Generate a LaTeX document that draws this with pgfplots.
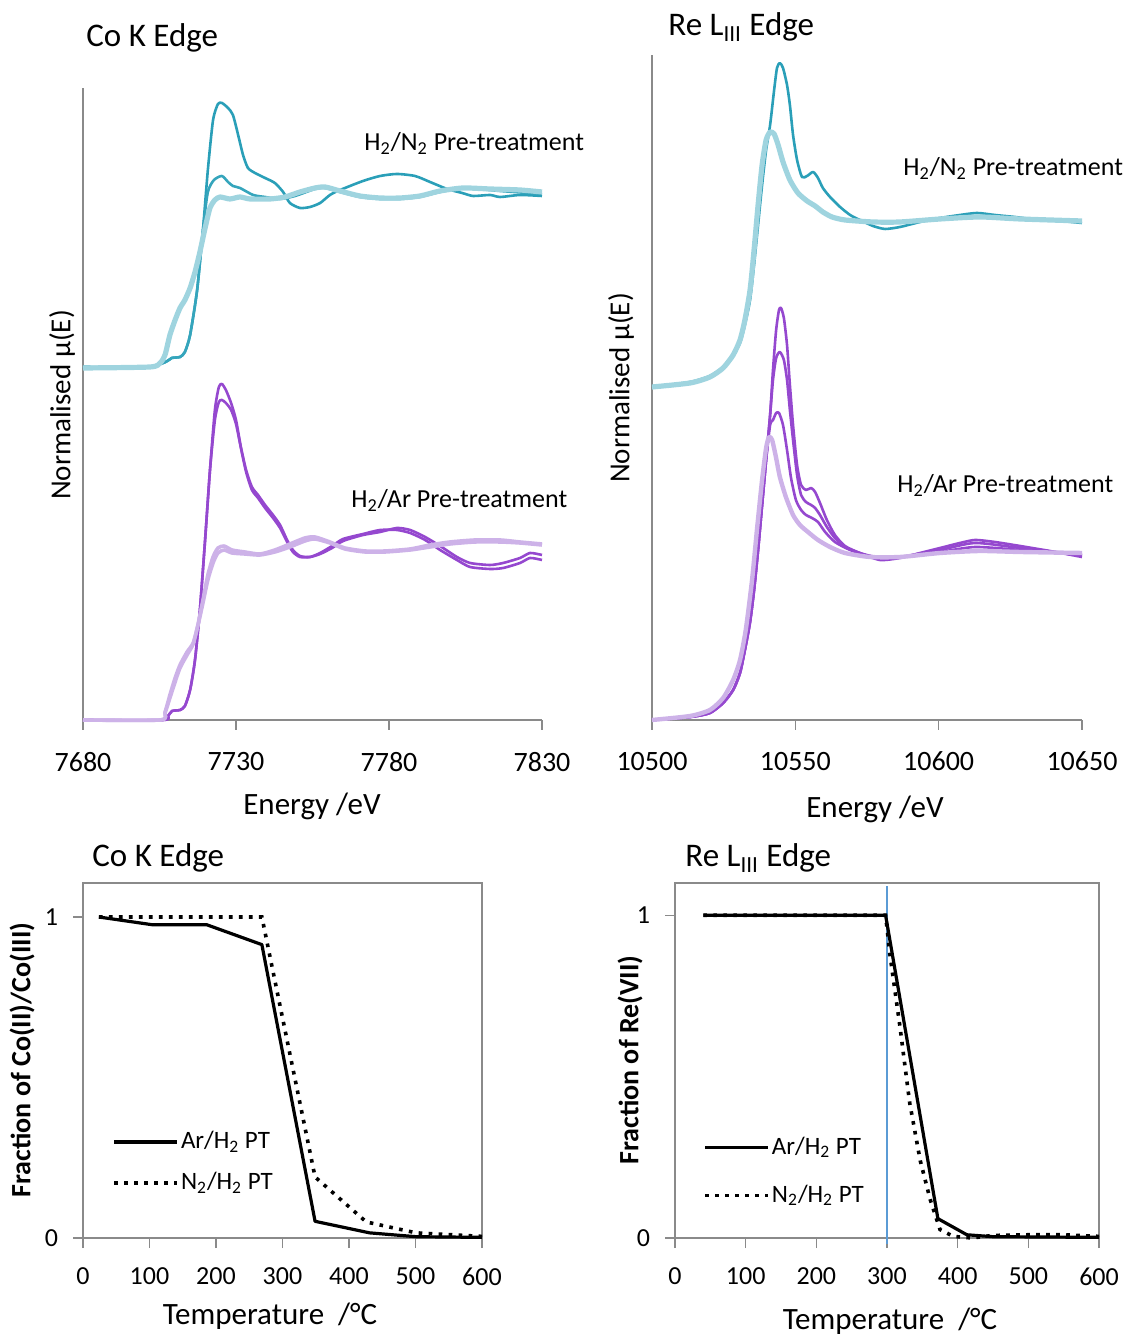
\documentclass[border=0pt]{standalone}
\usepackage{fontspec}
\setmainfont{Carlito}
\usepackage{pgfplots}
\pgfplotsset{compat=1.18}
\definecolor{tealD}{HTML}{2A9FB8}
\definecolor{tealM}{HTML}{35A5BC}
\definecolor{tealL}{HTML}{9FD4DF}
\definecolor{purD}{HTML}{9548CF}
\definecolor{purL}{HTML}{CDB2E8}
\definecolor{axgray}{HTML}{8A8A8A}
\definecolor{exblue}{HTML}{5B9BD5}
\newcommand{\fs}[1]{\fontsize{#1}{#1}\selectfont}
\begin{document}
\begin{tikzpicture}
\useasboundingbox (0,0) rectangle (561.5pt,668pt);
\pgfplotsset{
  xanes/.style={scale only axis, axis lines*=left,
    axis line style={draw=axgray, line width=0.6pt},
    ytick=\empty, tick align=outside, major tick length=5pt,
    tick style={draw=axgray, line width=0.6pt},
    ticklabel style={font=\fs{14}},
    xticklabel style={yshift=-7.5pt},
    scaled x ticks=false,
    /pgf/number format/assume math mode=true,
    /pgf/number format/1000 sep={},
    ymin=0, clip=false},
  frac/.style={scale only axis, width=199.5pt, height=177.5pt,
    xmin=0, xmax=600, ymin=0, xtick={0,100,...,600}, ytick={0,1},
    tick pos=left, tick align=outside, major tick length=5pt,
    axis line style={draw=axgray, line width=0.6pt},
    tick style={draw=axgray, line width=0.6pt},
    ticklabel style={font=\fs{13}},
    xticklabel style={yshift=-6.5pt},
    yticklabel style={xshift=-4pt},
    /pgf/number format/assume math mode=true, clip=false,
    legend image code/.code={\draw[##1] (0pt,0pt) -- (31.5pt,0pt);},
    legend cell align=left},
  solidk/.style={black, line width=1.6pt, line join=round},
  dotk/.style={black, line width=1.8pt, dash pattern=on 1.8pt off 3.2pt},
  dk/.style={line width=1.3pt, line join=round, smooth, tension=0.4},
  lt/.style={line width=2.6pt, line join=round, smooth, tension=0.4},
}
% ---------------- Co K edge XANES ----------------
\begin{axis}[xanes, at={(41.5pt,308pt)}, anchor=south west,
  width=229.5pt, height=316pt, xmin=7680, xmax=7830, ymax=632,
  xtick={7680,7730,7780,7830}]
% H2/N2
\addplot[dk, tealD] coordinates {(7680,353) (7701,353) (7707,358) (7709,362) (7711.7,363) (7713.3,368) (7715,385) (7717.3,430) (7719.2,490) (7720.8,550) (7722.5,600) (7724.1,616) (7725.4,617) (7727.4,612) (7729,605) (7730.7,585) (7732.3,565) (7733.9,552) (7736.2,547) (7739.5,542) (7742.7,537) (7745.4,528) (7747.6,517) (7750.9,512) (7754.2,513) (7757.5,517) (7760.7,525) (7764,530) (7771.5,539) (7777.1,544) (7782.6,546) (7788.5,544) (7793.4,538) (7799,531) (7803.9,527) (7807.5,524) (7813,525) (7816.3,523) (7822.8,525) (7830,524)};
\addplot[dk, tealM] coordinates {(7680,353) (7701,353) (7707,358) (7709,362) (7711.7,363) (7713.3,368) (7715,385) (7717.3,430) (7719.2,490) (7720.8,528) (7722.8,540) (7725.4,544) (7727.4,538) (7729,534) (7731.3,532) (7735.6,525) (7739.5,523) (7744.4,521) (7749.3,524) (7755.8,531) (7759.1,532) (7764,528) (7770.5,523) (7777,521) (7783.6,521) (7790,523) (7796.7,528) (7804.2,532) (7816.3,529) (7830,526)};
\addplot[lt, tealL] coordinates {(7680,352) (7701.9,353) (7705.2,357) (7706.8,365) (7708.4,385) (7710.1,400) (7711.7,412) (7713.3,420) (7715,432) (7716.6,448) (7718.2,468) (7719.9,492) (7721.5,512) (7723.1,520) (7724.8,523) (7728,521) (7731.3,523) (7734.6,521) (7741.1,521) (7746,523) (7750.9,528) (7755.8,532) (7759.1,533) (7764,529) (7770.5,524) (7777.1,522) (7783.6,522) (7790.1,524) (7796.7,529) (7804.2,532) (7813,531) (7822.8,530) (7830,528)};
% H2/Ar
\addplot[dk, purD] coordinates {(7680,0) (7706.1,0) (7707.8,4) (7709.1,9) (7711.7,10) (7713.3,14) (7715,30) (7716.6,60) (7718.2,110) (7719.9,180) (7721.5,250) (7723.1,310) (7724.4,333) (7725.4,336) (7726.7,330) (7728.4,317) (7730,300) (7731.6,273) (7733.3,250) (7735.2,233) (7737.2,225) (7739.5,215) (7742.1,205) (7744.4,195) (7746.7,180) (7748.6,170) (7750.9,164) (7754.2,163) (7757.5,166) (7761.4,172) (7765,179) (7771.5,185) (7777.1,188) (7782.6,192) (7786.9,190) (7791.8,183) (7796.7,174) (7802.2,163) (7806.5,157) (7813,155) (7817.3,157) (7822.8,162) (7826.1,167) (7830,165)};
\addplot[dk, purD] coordinates {(7680,0) (7706.1,0) (7707.8,4) (7709.1,9) (7711.7,10) (7713.3,14) (7715,30) (7716.6,60) (7718.2,110) (7719.9,180) (7721.5,250) (7723.1,300) (7724.4,318) (7725.4,320) (7726.7,317) (7728.4,310) (7730,296) (7731.6,272) (7733.3,248) (7735.2,230) (7737.2,222) (7739.5,212) (7742.1,202) (7744.4,192) (7746.7,178) (7748.6,168) (7750.9,163) (7754.2,163) (7757.5,167) (7761.4,174) (7765,181) (7771.5,186) (7777.1,190) (7782.6,190) (7786.9,187) (7791.8,180) (7796.7,170) (7802.2,160) (7806.5,153) (7813,151) (7817.3,152) (7822.8,157) (7826.1,162) (7830,160)};
\addplot[dk, line width=1.8pt, purL] coordinates {(7680,0) (7705.2,0) (7706.8,8) (7708.4,25) (7710.1,42) (7711.7,55) (7714,68) (7716,77) (7717.6,95) (7719.2,117) (7720.8,140) (7722.5,157) (7724.1,167) (7726.1,170) (7728.7,167) (7732.9,166) (7737.8,165) (7742.7,168) (7747.6,173) (7752.5,179) (7755.8,181) (7760.7,177) (7765.6,171) (7772.2,168) (7778.7,168) (7786.9,170) (7793.4,173) (7799.9,176) (7808.1,178) (7816.3,178) (7822.8,177) (7830,175)};
\addplot[dk, line width=1.8pt, purL] coordinates {(7680,0) (7705.2,0) (7706.8,7) (7708.4,22) (7710.1,38) (7711.7,52) (7714,65) (7716,76) (7717.6,96) (7719.2,120) (7720.8,145) (7722.5,163) (7724.1,172) (7726.1,174) (7728.7,170) (7732.9,168) (7737.8,166) (7742.7,170) (7747.6,176) (7752.5,182) (7755.8,183) (7760.7,178) (7765.6,172) (7772.2,169) (7778.7,169) (7786.9,171) (7793.4,175) (7799.9,178) (7808.1,180) (7816.3,180) (7822.8,178) (7830,176)};
\end{axis}
% ---------------- Re LIII edge XANES ----------------
\begin{axis}[xanes, at={(326pt,308pt)}, anchor=south west,
  width=215pt, height=332.5pt, xmin=10500, xmax=10650, ymax=665,
  xtick={10500,10550,10600,10650}]
\addplot[dk, tealD] coordinates {(10500,333) (10513.3,338) (10520.2,344) (10524.8,353) (10528.3,365) (10530.7,377) (10532.4,395) (10534.2,420) (10535.6,455) (10537,495) (10538.4,535) (10539.8,570) (10541.2,595) (10542.6,630) (10543.6,652) (10544.6,657) (10545.7,652) (10547.1,635) (10548.1,615) (10549.2,585) (10550.6,560) (10552.3,543) (10554.1,544) (10556.2,548) (10557.9,542) (10559.6,532) (10562.1,523) (10565.6,513) (10569.1,505) (10572.5,500) (10577.1,494) (10581.3,491) (10586.5,493) (10593.5,498) (10600.5,502) (10607.4,505) (10613.4,507) (10619.6,505) (10626.6,503) (10635.3,500) (10642.3,499) (10650,497)};
\addplot[lt, tealL] coordinates {(10500,333) (10513.3,337) (10520.2,343) (10524.8,352) (10528.3,365) (10530.7,380) (10532.4,400) (10534.2,430) (10535.6,470) (10537,515) (10538.4,555) (10539.8,580) (10541.2,588) (10542.6,586) (10544,575) (10545.7,558) (10548.1,540) (10550.9,527) (10554.1,519) (10556.9,514) (10559.6,508) (10562.8,503) (10567.3,500) (10577.1,498) (10586.5,498) (10600.5,501) (10614.4,503) (10628.4,501) (10650,499)};
\addplot[dk, purD] coordinates {(10500,0) (10513.3,3) (10520.2,7) (10524.8,17) (10528.3,30) (10530.7,47) (10532.4,70) (10534.2,98) (10535.6,130) (10537,170) (10538.4,215) (10539.8,260) (10541.2,305) (10542.2,350) (10543.3,390) (10544.3,410) (10545,412) (10546,402) (10547.1,375) (10548.1,335) (10549.2,295) (10550.6,255) (10552,235) (10553.7,230) (10555.5,232) (10556.9,228) (10558.6,217) (10561,200) (10563.8,185) (10567.3,174) (10572.5,167) (10579.5,160) (10586.5,162) (10593.5,167) (10600.5,172) (10607.4,177) (10612.7,180) (10619.6,178) (10628.4,174) (10638.8,169) (10650,163)};
\addplot[dk, purD] coordinates {(10500,0) (10513.3,3) (10520.2,7) (10524.8,17) (10528.3,30) (10530.7,47) (10532.4,70) (10534.2,98) (10535.6,130) (10537,170) (10538.4,215) (10539.8,260) (10541.2,305) (10542.2,340) (10543.3,362) (10544.6,368) (10546,360) (10547.1,340) (10548.1,310) (10549.2,280) (10550.6,245) (10552,225) (10553.7,218) (10555.5,215) (10556.9,212) (10558.6,205) (10561,193) (10563.8,182) (10567.3,173) (10572.5,167) (10579.5,162) (10586.5,163) (10600.5,170) (10612.7,177) (10628.4,172) (10650,165)};
\addplot[dk, purD] coordinates {(10500,0) (10513.3,3) (10520.2,7) (10524.8,17) (10528.3,30) (10530.7,47) (10532.4,70) (10534.2,98) (10535.6,130) (10537,170) (10538.4,215) (10539.8,260) (10541.2,295) (10542.2,300) (10543.3,307) (10544.3,307) (10545.7,295) (10547.1,270) (10548.5,242) (10550.2,220) (10552,210) (10553.7,205) (10555.8,202) (10557.9,198) (10560.4,188) (10563.8,178) (10569.1,170) (10576,164) (10586.5,163) (10600.5,168) (10612.7,173) (10628.4,170) (10650,165)};
\addplot[dk, line width=2.2pt, purL] coordinates {(10500,0) (10513.3,4) (10520.2,10) (10524.8,22) (10528.3,40) (10530.7,60) (10532.7,90) (10534.9,140) (10536.6,190) (10538.4,240) (10539.8,272) (10540.8,283) (10541.9,280) (10543.3,262) (10544.6,243) (10546.7,223) (10549.2,205) (10551.6,195) (10554.4,188) (10557.9,180) (10562.1,173) (10567.3,167) (10576,163) (10586.5,163) (10600.5,167) (10614.4,169) (10628.4,168) (10650,167)};
\end{axis}
% ---------------- Co fraction ----------------
\begin{axis}[frac, at={(41.5pt,49pt)}, anchor=south west, ymax=1.106,
  legend style={at={(0.0727,0.2125)}, anchor=west, draw=none, fill=none,
    font=\fs{12.5}, inner sep=0pt, row sep=7pt,
    nodes={inner sep=1pt, text height=9pt, text depth=2.5pt}}]
\addplot[solidk] coordinates {(24,1.0) (104,0.976) (186,0.976) (269,0.914) (349,0.052) (431,0.016) (501,0.004) (600,0.002)};
\addlegendentry{Ar/H\textsubscript{2} PT}
\addplot[dotk] coordinates {(24,1.0) (106,1.0) (188,1.0) (269,1.0) (349,0.19) (426,0.05) (501,0.016) (600,0.005)};
\addlegendentry{N\textsubscript{2}/H\textsubscript{2} PT}
\end{axis}
% ---------------- Re fraction ----------------
\begin{axis}[frac, at={(337.5pt,49pt)}, anchor=south west, width=212pt, ymax=1.1,
  legend style={at={(0.066,0.187)}, anchor=west, draw=none, fill=none,
    font=\fs{12.5}, inner sep=0pt, row sep=10.5pt,
    nodes={inner sep=1pt, text height=9pt, text depth=2.5pt}}]
\addplot[exblue, line width=1.2pt, forget plot] coordinates {(300,-0.02) (300,1.09)};
\addplot[solidk] coordinates {(40,1.0) (298,1.0) (372,0.06) (413,0.01) (450,0.004) (600,0.002)};
\addlegendentry{Ar/H\textsubscript{2} PT}
\addplot[dotk] coordinates {(40,1.0) (298,1.0) (304,0.88) (318,0.66) (332,0.42) (347,0.24) (361,0.12) (375,0.026) (394,0.005) (420,0.0) (450,0.008) (500,0.01) (550,0.01) (600,0.005)};
\addlegendentry{N\textsubscript{2}/H\textsubscript{2} PT}
\end{axis}
% ---------------- Texts ----------------
\node[anchor=base west, font=\fs{16.5}, inner sep=0pt] at (43pt,644.5pt) {Co K Edge};
\node[anchor=base west, font=\fs{16.5}, inner sep=0pt] at (334pt,650pt) {Re L\textsubscript{III} Edge};
\node[anchor=base west, font=\fs{13}, inner sep=0pt] at (182pt,592.5pt) {H\textsubscript{2}/N\textsubscript{2} Pre-treatment};
\node[anchor=base west, font=\fs{13}, inner sep=0pt] at (175.5pt,414pt) {H\textsubscript{2}/Ar Pre-treatment};
\node[anchor=base west, font=\fs{13}, inner sep=0pt] at (451.5pt,580pt) {H\textsubscript{2}/N\textsubscript{2} Pre-treatment};
\node[anchor=base west, font=\fs{13}, inner sep=0pt] at (448.5pt,421.5pt) {H\textsubscript{2}/Ar Pre-treatment};
\node[rotate=90, font=\fs{14.5}, inner sep=0pt] at (31pt,465.5pt) {Normalised μ(E)};
\node[rotate=90, font=\fs{14.5}, inner sep=0pt] at (310.5pt,474pt) {Normalised μ(E)};
\node[anchor=base, font=\fs{15.5}, inner sep=0pt] at (156pt,260.5pt) {Energy /eV};
\node[anchor=base, font=\fs{15.5}, inner sep=0pt] at (437.5pt,259pt) {Energy /eV};
\node[anchor=base west, font=\fs{16.5}, inner sep=0pt] at (46pt,234.5pt) {Co K Edge};
\node[anchor=base west, font=\fs{16.5}, inner sep=0pt] at (342.5pt,234.5pt) {Re L\textsubscript{III} Edge};
\node[rotate=90, font=\bfseries\fs{14}, inner sep=0pt] at (11pt,138pt) {Fraction of Co(II)/Co(III)};
\node[rotate=90, font=\bfseries\fs{14}, inner sep=0pt] at (315pt,138pt) {Fraction of Re(VII)};
\node[anchor=base, font=\fs{15.5}, inner sep=0pt] at (135pt,5.5pt) {Temperature\hspace{0.45em}/°C};
\node[anchor=base, font=\fs{15.5}, inner sep=0pt] at (445pt,3pt) {Temperature\hspace{0.45em}/°C};
\end{tikzpicture}
\end{document}
